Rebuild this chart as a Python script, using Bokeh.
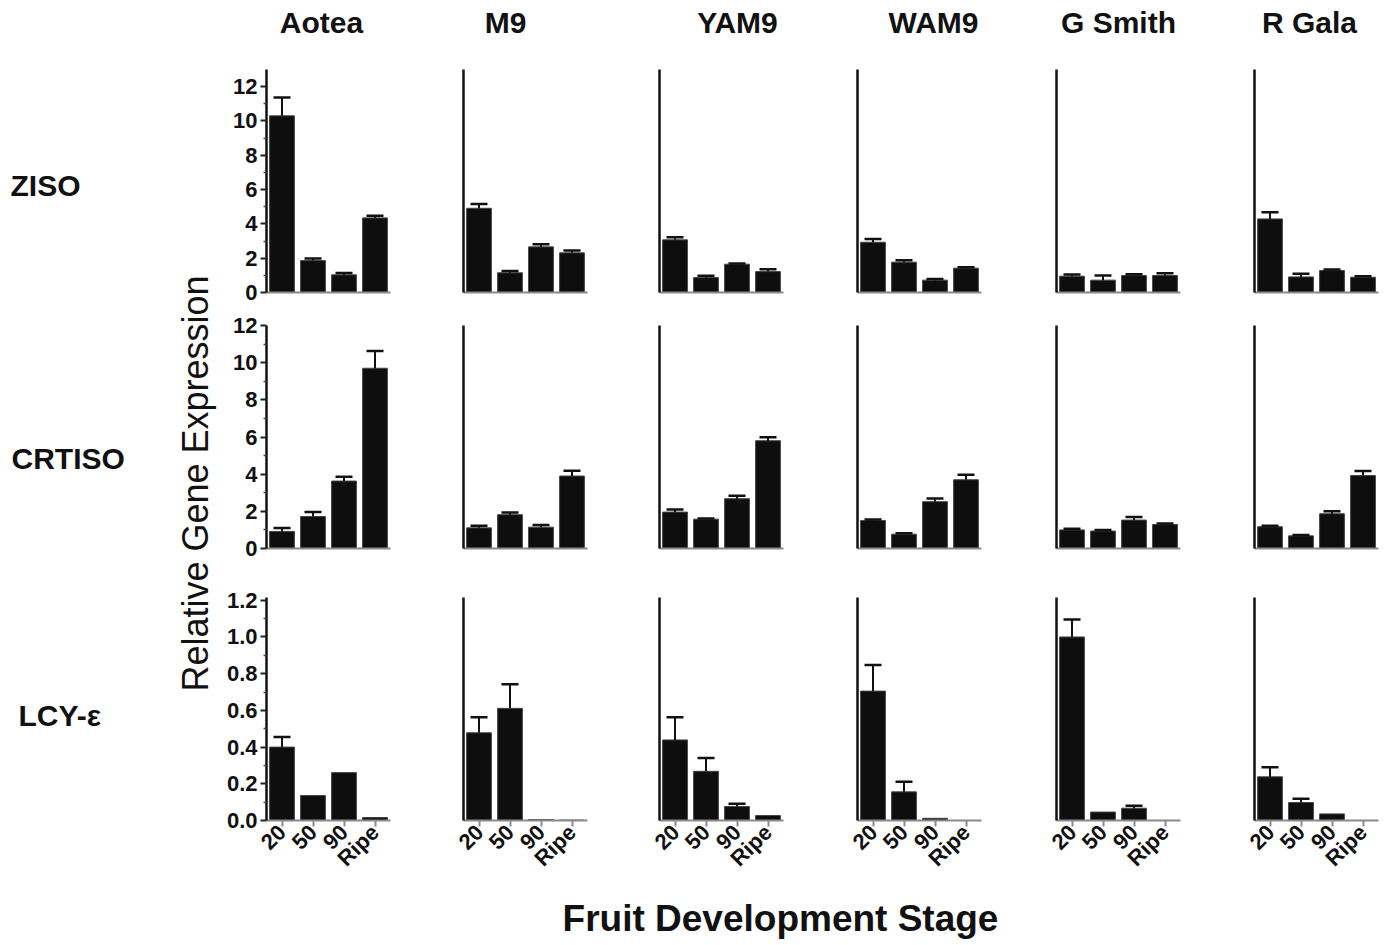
import math
from bokeh.plotting import figure
from bokeh.layouts import row, column
from bokeh.models import Range1d, FixedTicker, PrintfTickFormatter
from bokeh.core.properties import value
from bokeh.embed import file_html
from bokeh.resources import INLINE

FONT = "Liberation Sans"

# ---------------- data ----------------
stages = ["20", "50", "90", "Ripe"]
stage_pos = [0, 1, 2, 3]
cultivars = ["Aotea", "M9", "YAM9", "WAM9", "G Smith", "R Gala"]
genes = ["ZISO", "CRTISO", "LCY-\u03b5"]

# ZISO: mean and upper error (SEM) per cultivar, stages 20/50/90/Ripe
ziso_mean = [
    [10.3, 1.86, 1.03, 4.35],
    [4.91, 1.15, 2.66, 2.31],
    [3.07, 0.87, 1.65, 1.22],
    [2.93, 1.77, 0.72, 1.42],
    [0.95, 0.72, 0.99, 0.99],
    [4.29, 0.91, 1.28, 0.89],
]
ziso_err = [
    [1.07, 0.12, 0.10, 0.12],
    [0.25, 0.10, 0.15, 0.14],
    [0.15, 0.10, 0.04, 0.14],
    [0.19, 0.11, 0.06, 0.05],
    [0.10, 0.27, 0.07, 0.13],
    [0.39, 0.19, 0.06, 0.06],
]

crtiso_mean = [
    [0.92, 1.72, 3.63, 9.70],
    [1.11, 1.82, 1.15, 3.90],
    [1.96, 1.58, 2.68, 5.80],
    [1.51, 0.77, 2.52, 3.70],
    [1.00, 0.94, 1.53, 1.29],
    [1.17, 0.68, 1.87, 3.93],
]
crtiso_err = [
    [0.18, 0.24, 0.23, 0.93],
    [0.11, 0.12, 0.12, 0.28],
    [0.14, 0.04, 0.16, 0.18],
    [0.05, 0.05, 0.17, 0.27],
    [0.06, 0.06, 0.16, 0.06],
    [0.06, 0.05, 0.14, 0.24],
]

lcy_mean = [
    [0.400, 0.136, 0.261, 0.016],
    [0.478, 0.611, 0.005, 0.002],
    [0.439, 0.268, 0.076, 0.027],
    [0.705, 0.156, 0.012, 0.000],
    [1.000, 0.046, 0.067, 0.000],
    [0.238, 0.098, 0.036, 0.000],
]
lcy_err = [
    [0.055, 0.0, 0.0, 0.0],
    [0.084, 0.131, 0.0, 0.0],
    [0.123, 0.073, 0.015, 0.0],
    [0.142, 0.055, 0.0, 0.0],
    [0.095, 0.0, 0.013, 0.0],
    [0.052, 0.020, 0.0, 0.0],
]

ziso_ticks = [0, 2, 4, 6, 8, 10, 12]
ziso_minor = [1, 3, 5, 7, 9, 11]
crtiso_ticks = [0, 2, 4, 6, 8, 10, 12]
crtiso_minor = [1, 3, 5, 7, 9, 11]
lcy_ticks = [0.0, 0.2, 0.4, 0.6, 0.8, 1.0, 1.2]
lcy_minor = [0.1, 0.3, 0.5, 0.7, 0.9, 1.1]

y_tops = [13.0, 12.0, 1.215]

# ---------------- layout parameters ----------------
means_all = [ziso_mean, crtiso_mean, lcy_mean]
errs_all = [ziso_err, crtiso_err, lcy_err]
ticks_all = [ziso_ticks, crtiso_ticks, lcy_ticks]
minor_all = [ziso_minor, crtiso_minor, lcy_minor]

LEFT_W = 218
FW = [124, 124, 124, 124, 124, 124]
BL = [48, 10, 10, 10, 10, 10]
BR = [63, 62, 64, 65, 64, 4]
FH = 223
BT = [21, 17, 33]
BB = [16, 16, 60]
HEAD_H = 48
FOOT_H = 61
TOTAL_W = LEFT_W + sum(b + f + r for b, f, r in zip(BL, FW, BR))

BAR = "#0e0e0e"
INK = "#111111"


def panel(gi, ci):
    means = means_all[gi][ci]
    errs = errs_all[gi][ci]
    p = figure(x_range=Range1d(-0.5, len(stages) - 0.5), y_range=Range1d(0, y_tops[gi]),
               frame_width=FW[ci], frame_height=FH,
               min_border_left=BL[ci], min_border_right=BR[ci],
               min_border_top=BT[gi], min_border_bottom=BB[gi],
               output_backend="svg", toolbar_location=None)
    p.outline_line_color = None
    p.grid.visible = False
    p.background_fill_color = "white"
    p.border_fill_color = "white"

    p.vbar(x=stage_pos, top=means, width=0.8, fill_color=BAR,
           line_color="#444444", line_width=1)

    xs = [s for s, e in zip(stage_pos, errs) if e > 0]
    y0 = [m for m, e in zip(means, errs) if e > 0]
    y1 = [m + e for m, e in zip(means, errs) if e > 0]
    if xs:
        p.segment(x0=xs, y0=y0, x1=xs, y1=y1, line_color=INK, line_width=2)
        p.scatter(x=xs, y=y1, marker="dash", size=17, line_color=INK,
                  line_width=2.5)

    # y axis
    ya = p.yaxis[0]
    ya.axis_line_color = INK
    ya.axis_line_width = 2.5
    if ci == 0:
        ya.ticker = FixedTicker(ticks=ticks_all[gi], minor_ticks=minor_all[gi])
        if gi == 2:
            ya.formatter = PrintfTickFormatter(format="%.1f")
        ya.major_tick_out = 6
        ya.major_tick_in = 0
        ya.minor_tick_out = 3
        ya.minor_tick_in = 0
        ya.major_tick_line_width = 2
        ya.minor_tick_line_width = 1.5
        ya.major_tick_line_color = "#222222"
        ya.minor_tick_line_color = "#444444"
        ya.major_label_text_font = FONT
        ya.major_label_text_font_style = "bold"
        ya.major_label_text_font_size = "22px"
        ya.major_label_text_color = INK
        ya.major_label_standoff = 3
    else:
        ya.ticker = FixedTicker(ticks=[])
        ya.major_tick_line_color = None
        ya.minor_tick_line_color = None
        ya.major_tick_out = 0
        ya.major_label_standoff = 0

    # x axis
    xa = p.xaxis[0]
    xa.axis_line_color = "#8a8a8a"
    xa.axis_line_width = 2
    xa.minor_tick_line_color = None
    if gi == 2:
        xa.ticker = FixedTicker(ticks=stage_pos)
        xa.major_label_overrides = {i: s for i, s in zip(stage_pos, stages)}
        xa.major_tick_out = 6
        xa.major_tick_in = 0
        xa.major_tick_line_color = "#8a8a8a"
        xa.major_tick_line_width = 2
        xa.major_label_orientation = math.pi / 4
        xa.major_label_text_font = FONT
        xa.major_label_text_font_style = "bold"
        xa.major_label_text_font_size = "22px"
        xa.major_label_text_color = INK
        xa.major_label_standoff = 2
    else:
        xa.ticker = FixedTicker(ticks=[])
        xa.major_tick_line_color = None
        xa.major_tick_out = 0
        xa.major_tick_in = 0
        xa.major_label_standoff = 0
    return p


rows = []
for gi in range(3):
    rows.append(row([panel(gi, ci) for ci in range(6)], spacing=0))
grid = column(rows, spacing=0)


# ---------------- text figures ----------------
def text_fig(w, h):
    f = figure(width=w, height=h, x_range=Range1d(0, w), y_range=Range1d(h, 0),
               min_border=0, output_backend="svg", toolbar_location=None)
    f.axis.visible = False
    f.grid.visible = False
    f.outline_line_color = None
    return f


H_ROWS = sum(BT[g] + FH + BB[g] for g in range(3))

left = text_fig(LEFT_W, H_ROWS)
left.text(x=[10, 11, 18], y=[137, 410, 667], text=genes,
          text_font=value(FONT), text_font_style="bold", text_font_size="30px",
          text_color=INK, text_align="left", text_baseline="middle")
left.text(x=[195], y=[435], text=["Relative Gene Expression"], angle=math.pi / 2,
          text_font=value(FONT), text_font_size="36px", text_color=INK,
          text_align="center", text_baseline="middle")

header = text_fig(TOTAL_W, HEAD_H)
header.text(x=[321, 505, 737, 933, 1118, 1309], y=[22] * 6, text=cultivars,
            text_font=value(FONT), text_font_style="bold", text_font_size="30px",
            text_color=INK, text_align="center", text_baseline="middle")

footer = text_fig(TOTAL_W, FOOT_H)
footer.text(x=[780], y=[36], text=["Fruit Development Stage"],
            text_font=value(FONT), text_font_style="bold", text_font_size="37px",
            text_color=INK, text_align="center", text_baseline="middle")

layout = column(header, row(left, grid, spacing=0), footer, spacing=0)

open("out.html", "w").write(file_html(layout, INLINE))
